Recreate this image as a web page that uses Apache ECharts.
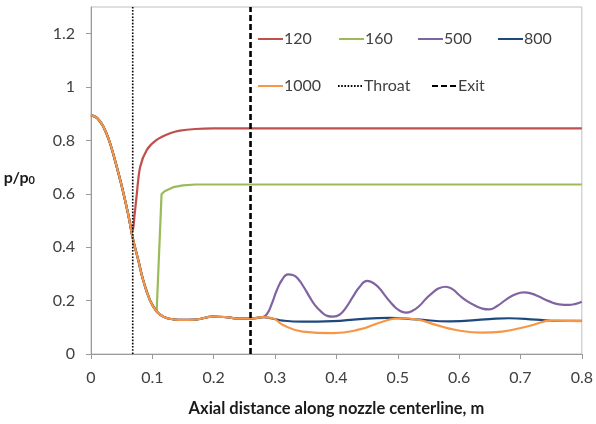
<!DOCTYPE html>
<html><head><meta charset="utf-8">
<script src="https://cdn.jsdelivr.net/npm/echarts@6/dist/echarts.min.js"></script>
<style>html,body{margin:0;padding:0;background:#fff}#c{width:596px;height:424px}</style>
</head><body><div id="c"></div>
<script>
// Shared upstream curve (all cases coincide before branching)
const commonX = [0, 0.01, 0.02, 0.03, 0.04, 0.05, 0.06, 0.068, 0.077, 0.085, 0.096, 0.107, 0.118, 0.134, 0.15, 0.17, 0.2, 0.22, 0.24, 0.26, 0.28];
const commonY = [0.895, 0.884, 0.852, 0.797, 0.718, 0.63, 0.53, 0.435, 0.352, 0.277, 0.202, 0.159, 0.14, 0.13, 0.128, 0.129, 0.14, 0.138, 0.133, 0.133, 0.138];

const seriesNames = ['120', '160', '500', '800', '1000'];
const branchAt = [0.06, 0.107, 0.28, 0.28, 0.28];

const tail120X = [0.065, 0.068, 0.071, 0.074, 0.08, 0.091, 0.107, 0.129, 0.145, 0.17, 0.2, 0.3, 0.5, 0.8];
const tail120Y = [0.48, 0.462, 0.52, 0.585, 0.70, 0.765, 0.802, 0.827, 0.837, 0.843, 0.845, 0.845, 0.845, 0.845];

const tail160X = [0.109, 0.115, 0.12, 0.134, 0.15, 0.17, 0.3, 0.5, 0.8];
const tail160Y = [0.153, 0.599, 0.61, 0.625, 0.632, 0.635, 0.635, 0.635, 0.635];

const tail500X = [0.287, 0.295, 0.303, 0.312, 0.321, 0.33, 0.338, 0.347, 0.356, 0.365, 0.375, 0.385, 0.395, 0.405, 0.415, 0.427, 0.438, 0.45, 0.46, 0.47, 0.481, 0.492, 0.502, 0.513, 0.524, 0.535, 0.546, 0.557, 0.567, 0.578, 0.589, 0.6, 0.613, 0.627, 0.638, 0.649, 0.662, 0.676, 0.69, 0.706, 0.718, 0.73, 0.746, 0.763, 0.779, 0.79, 0.8];
const tail500Y = [0.15, 0.19, 0.24, 0.28, 0.298, 0.295, 0.28, 0.25, 0.215, 0.183, 0.159, 0.143, 0.14, 0.147, 0.172, 0.215, 0.252, 0.274, 0.266, 0.246, 0.214, 0.184, 0.164, 0.155, 0.162, 0.18, 0.207, 0.23, 0.246, 0.252, 0.243, 0.221, 0.198, 0.18, 0.17, 0.167, 0.18, 0.203, 0.222, 0.231, 0.226, 0.215, 0.198, 0.186, 0.184, 0.188, 0.196];

const tail800X = [0.295, 0.313, 0.345, 0.394, 0.438, 0.485, 0.53, 0.584, 0.649, 0.681, 0.725, 0.762, 0.8];
const tail800Y = [0.133, 0.125, 0.121, 0.123, 0.131, 0.135, 0.13, 0.122, 0.131, 0.134, 0.129, 0.124, 0.124];

const tail1000X = [0.295, 0.313, 0.345, 0.394, 0.438, 0.475, 0.503, 0.53, 0.562, 0.595, 0.638, 0.67, 0.714, 0.752, 0.8];
const tail1000Y = [0.135, 0.109, 0.084, 0.078, 0.092, 0.121, 0.134, 0.13, 0.109, 0.09, 0.08, 0.084, 0.105, 0.125, 0.123];

const throatX = 0.068;
const exitX = 0.26;
const xTickLabels = ['0', '0.1', '0.2', '0.3', '0.4', '0.5', '0.6', '0.7', '0.8'];

const colors = ['#C0504D', '#9BBB59', '#8064A2', '#1F497D', '#F79646'];
const tails = [[tail120X, tail120Y], [tail160X, tail160Y], [tail500X, tail500Y], [tail800X, tail800Y], [tail1000X, tail1000Y]];
const smoothness = [0.3, false, 0.5, 0.5, 0.5];

function build(i) {
  const pts = [];
  for (let k = 0; k < commonX.length; k++) if (commonX[k] <= branchAt[i] + 1e-9) pts.push([commonX[k], commonY[k]]);
  const [tx, ty] = tails[i];
  for (let k = 0; k < tx.length; k++) pts.push([tx[k], ty[k]]);
  return pts;
}

const FONT = 'Lato';
const series = seriesNames.map((n, i) => ({
  name: n, type: 'line', data: build(i), symbol: 'none', showSymbol: false,
  smooth: smoothness[i],
  lineStyle: { color: colors[i], width: 2.2 }, itemStyle: { color: colors[i] }
}));
series.push({
  name: 'Throat', type: 'line', data: [[throatX, 0], [throatX, 1.3]], symbol: 'none',
  lineStyle: { color: '#000', width: 1.6, type: [1.6, 1.6] }, itemStyle: { color: '#000' }
});
series.push({
  name: 'Exit', type: 'line', data: [[exitX, 0], [exitX, 1.3]], symbol: 'none',
  lineStyle: { color: '#000', width: 2.6, type: [6, 3] }, itemStyle: { color: '#000' }
});

const legendPos = {
  '120': [257, 31], '160': [338, 31], '500': [417, 31], '800': [497, 31],
  '1000': [257, 78], 'Throat': [337, 78], 'Exit': [431, 78]
};
const legends = Object.keys(legendPos).map(n => ({
  data: [n], left: legendPos[n][0], top: legendPos[n][1], padding: 0,
  itemWidth: 25, itemHeight: 14, selectedMode: false,
  itemStyle: { opacity: 0, borderWidth: 0 },
  textStyle: { fontFamily: FONT, fontSize: 16, color: '#404040', padding: [0, 0, 0, -4] }
}));

const chart = echarts.init(document.getElementById('c'), null, { renderer: 'canvas' });
chart.setOption({
  animation: false,
  backgroundColor: '#fff',
  color: colors,
  legend: legends,
  grid: { left: 91, right: 13, top: 7, bottom: 70, show: true, borderColor: '#BFBFBF', borderWidth: 1 },
  xAxis: {
    type: 'value', min: 0, max: 0.8, interval: 0.1,
    name: 'Axial distance along nozzle centerline, m', nameLocation: 'middle', nameGap: 46,
    nameTextStyle: { fontFamily: FONT, fontWeight: 'bold', fontSize: 16.5, color: '#1a1a1a' },
    axisLine: { show: true, lineStyle: { color: '#9a9a9a', width: 1 } },
    axisTick: { show: true, length: 5, lineStyle: { color: '#9a9a9a' } },
    axisLabel: { fontFamily: FONT, fontSize: 16, color: '#404040', margin: 16,
      formatter: (v) => { const i = Math.round(v * 10); return xTickLabels[i] !== undefined ? xTickLabels[i] : ''; } },
    splitLine: { show: false }
  },
  yAxis: {
    type: 'value', min: 0, max: 1.3, interval: 0.2,
    name: '{a|p/p}{b|0}', nameLocation: 'middle', nameRotate: 0, nameGap: 56,
    nameTextStyle: {
      padding: [0, 0, 6, 0],
      rich: {
        a: { fontFamily: FONT, fontWeight: 'bold', fontSize: 16, color: '#1a1a1a' },
        b: { fontFamily: FONT, fontWeight: 'bold', fontSize: 11, color: '#1a1a1a', padding: [6, 0, 0, 0] }
      }
    },
    axisLine: { show: true, lineStyle: { color: '#9a9a9a', width: 1 } },
    axisTick: { show: true, length: 5, lineStyle: { color: '#9a9a9a' } },
    axisLabel: { fontFamily: FONT, fontSize: 16, color: '#404040', margin: 16, showMaxLabel: false,
      formatter: (v) => (Math.abs(v * 10 - Math.round(v * 10)) < 1e-6 && Math.round(v * 10) % 2 === 0) ? String(+v.toFixed(1)) : '' },
    splitLine: { show: false }
  },
  series: series
});
</script></body></html>
